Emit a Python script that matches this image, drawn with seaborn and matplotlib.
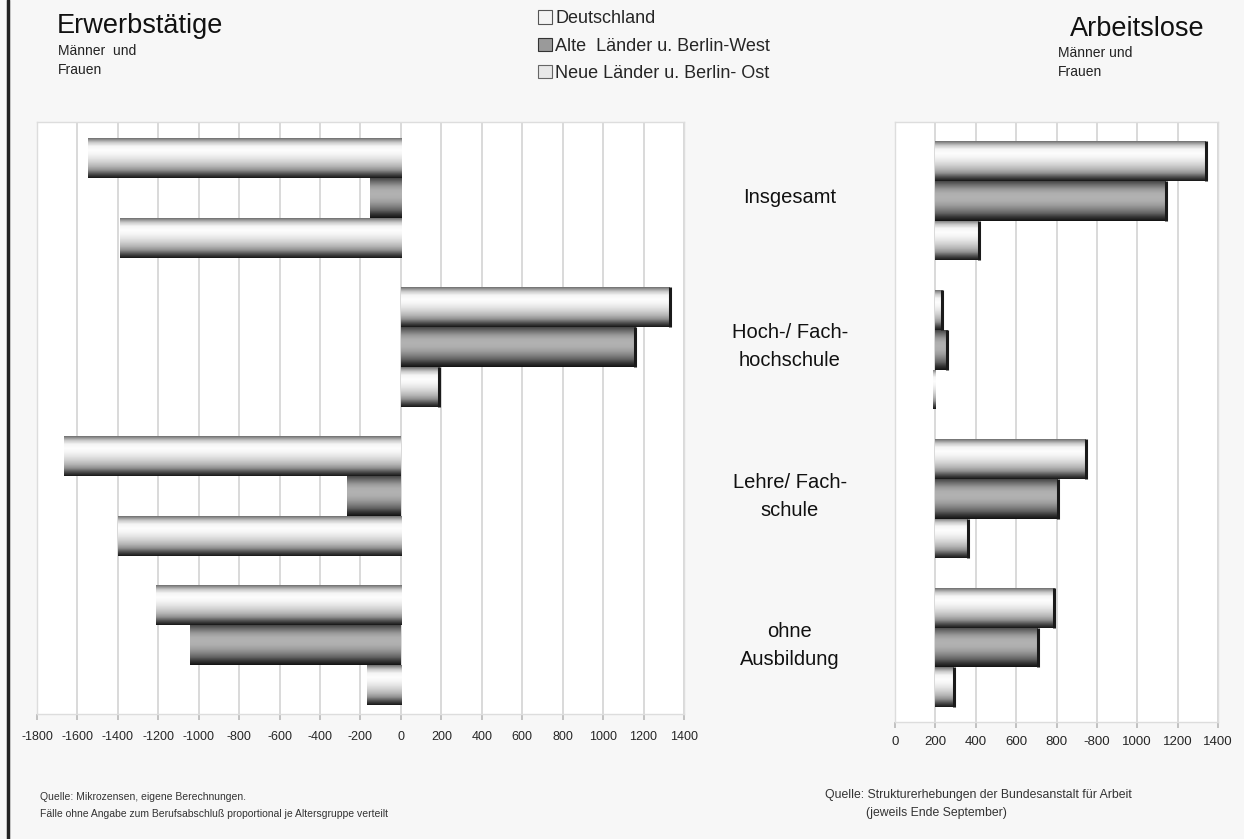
import numpy as np
import pandas as pd
import matplotlib
matplotlib.use("Agg")
import matplotlib.pyplot as plt
import matplotlib.transforms as mtrans
from matplotlib.patches import Patch
from matplotlib.lines import Line2D
import seaborn as sns

# ---------------- data ----------------
categories = ["Insgesamt", "Hoch-/ Fach-\nhochschule", "Lehre/ Fach-\nschule", "ohne\nAusbildung"]
series = ["Deutschland", "Alte  Länder u. Berlin-West", "Neue Länder u. Berlin- Ost"]

erw_de = [-1550, 1330, -1665, -1212]
erw_alt = [-155, 1158, -265, -1043]
erw_neu = [-1390, 190, -1400, -170]

al_de = [1340, 35, 745, 590]
al_alt = [1140, 60, 605, 510]
al_neu = [215, -10, 160, 90]

left_ticks = [-1800, -1600, -1400, -1200, -1000, -800, -600, -400, -200, 0, 200, 400, 600, 800, 1000, 1200, 1400]
left_ticklabels = [str(t) for t in left_ticks]
right_ticks = [-200, 0, 200, 400, 600, 800, 1000, 1200, 1400]
right_ticklabels = ["0", "200", "400", "600", "800", "-800", "1000", "1200", "1400"]

# ---------------- style ----------------
sns.set_theme(style="white")
plt.rcParams["font.family"] = ["Liberation Sans", "DejaVu Sans"]

W, H = 1244, 839
fig = plt.figure(figsize=(W / 100, H / 100), dpi=100, facecolor="#f7f7f7")


def fx(px):
    return px / W


def fy(py):
    return 1 - py / H


def make_df(a, b, c):
    rows = []
    for s, vals in zip(series, [a, b, c]):
        for cat, v in zip(categories, vals):
            rows.append({"cat": cat, "val": v, "series": s})
    return pd.DataFrame(rows)


palette = {series[0]: "#f0f0f0", series[1]: "#a8a8a8", series[2]: "#e4e4e4"}

light_prof = [0.45, 0.78, 0.96, 0.99, 0.96, 0.90, 0.82, 0.72, 0.58, 0.32, 0.10]
dark_prof = [0.28, 0.45, 0.60, 0.68, 0.70, 0.68, 0.62, 0.52, 0.40, 0.22, 0.08]


def shade(ax, n_cat=4):
    patches = [p for p in ax.patches if p.get_height() != 0]
    for i, p in enumerate(patches):
        hue_idx = i // n_cat
        prof = dark_prof if hue_idx == 1 else light_prof
        arr = np.interp(np.linspace(0, len(prof) - 1, 60), np.arange(len(prof)), prof)[:, None]
        x, y, w, h = p.get_x(), p.get_y(), p.get_width(), p.get_height()
        x0, x1 = min(x, x + w), max(x, x + w)
        im = ax.imshow(arr, extent=(x0, x1, y + h, y), aspect="auto", cmap="gray",
                       vmin=0, vmax=1, interpolation="bilinear", zorder=p.get_zorder() + 0.1)
        im.set_clip_path(p)
        p.set_edgecolor("none")
        if w > 0:
            ax.add_line(Line2D([x1, x1], [y, y + h], color="#1a1a1a", lw=2.2,
                               zorder=p.get_zorder() + 0.2, solid_capstyle="butt"))


def style_axis(ax, ticks, labels, xlim, ylim):
    ax.set_facecolor("white")
    ax.set_xlim(*xlim)
    ax.set_ylim(*ylim)
    ax.set_xticks(ticks)
    ax.set_xticklabels(labels, fontsize=9)
    ax.set_yticks([])
    ax.set_xlabel("")
    ax.set_ylabel("")
    ax.grid(axis="x", color="#d9d9d9", lw=1.4, zorder=0)
    ax.set_axisbelow(True)
    ax.tick_params(axis="x", bottom=True, length=4, color="#bbbbbb", pad=8)
    for s in ax.spines.values():
        s.set_color("#dddddd")
        s.set_linewidth(1.0)


# ---------------- left panel ----------------
axL = fig.add_axes([fx(37), fy(714), fx(684 - 37), (714 - 122) / H])
sns.barplot(data=make_df(erw_de, erw_alt, erw_neu), y="cat", x="val", hue="series",
            orient="h", width=0.8, palette=palette, saturation=1, legend=False, ax=axL)
shade(axL)
style_axis(axL, left_ticks, left_ticklabels, (-1800, 1400), (3.463, -0.51))

# ---------------- right panel ----------------
axR = fig.add_axes([fx(895), fy(722), fx(1218 - 895), (722 - 122) / H])
sns.barplot(data=make_df(al_de, al_alt, al_neu), y="cat", x="val", hue="series",
            orient="h", width=0.8, palette=palette, saturation=1, legend=False, ax=axR)
shade(axR)
style_axis(axR, right_ticks, right_ticklabels, (-200, 1400), (3.5, -0.53))
axR.tick_params(axis="x", labelsize=9.5, pad=6)

# ---------------- category labels in the middle ----------------
tr = mtrans.blended_transform_factory(fig.transFigure, axL.transData)
for i, cat in enumerate(categories):
    axL.text(fx(790), i, cat, transform=tr, ha="center", va="center",
             fontsize=14.5, linespacing=1.6, color="#111111", clip_on=False)

# ---------------- titles ----------------
fig.text(fx(57), fy(26), "Erwerbstätige", fontsize=19.5, ha="left", va="center", color="#111111")
fig.text(fx(58), fy(51), "Männer  und", fontsize=10, ha="left", va="center", color="#222222")
fig.text(fx(58), fy(70), "Frauen", fontsize=10, ha="left", va="center", color="#222222")
fig.text(fx(1205), fy(29), "Arbeitslose", fontsize=19.5, ha="right", va="center", color="#111111")
fig.text(fx(1058), fy(53), "Männer und", fontsize=10, ha="left", va="center", color="#222222")
fig.text(fx(1058), fy(72), "Frauen", fontsize=10, ha="left", va="center", color="#222222")

# ---------------- legend ----------------
handles = [Patch(facecolor="#f4f4f4", edgecolor="#555555", lw=0.8),
           Patch(facecolor="#9a9a9a", edgecolor="#333333", lw=0.8),
           Patch(facecolor="#e8e8e8", edgecolor="#666666", lw=0.8)]
fig.legend(handles, series, loc="upper left", bbox_to_anchor=(fx(531), fy(3)),
           frameon=False, fontsize=13, handlelength=0.75, handleheight=0.75,
           handletextpad=0.2, labelspacing=0.58, borderaxespad=0)

# ---------------- footnotes ----------------
fig.text(fx(40), fy(797), "Quelle: Mikrozensen, eigene Berechnungen.", fontsize=7.5, color="#333333", va="center")
fig.text(fx(40), fy(814), "Fälle ohne Angabe zum Berufsabschluß proportional je Altersgruppe verteilt",
         fontsize=7.5, color="#333333", va="center")
fig.text(fx(825), fy(795), "Quelle: Strukturerhebungen der Bundesanstalt für Arbeit", fontsize=8.8,
         color="#333333", va="center")
fig.text(fx(866), fy(813), "(jeweils Ende September)", fontsize=8.8, color="#333333", va="center")

# left border line
fig.add_artist(Line2D([fx(8), fx(8)], [0, 1], color="#222222", lw=2.5, transform=fig.transFigure))

fig.savefig("out.png", dpi=100, facecolor=fig.get_facecolor())
